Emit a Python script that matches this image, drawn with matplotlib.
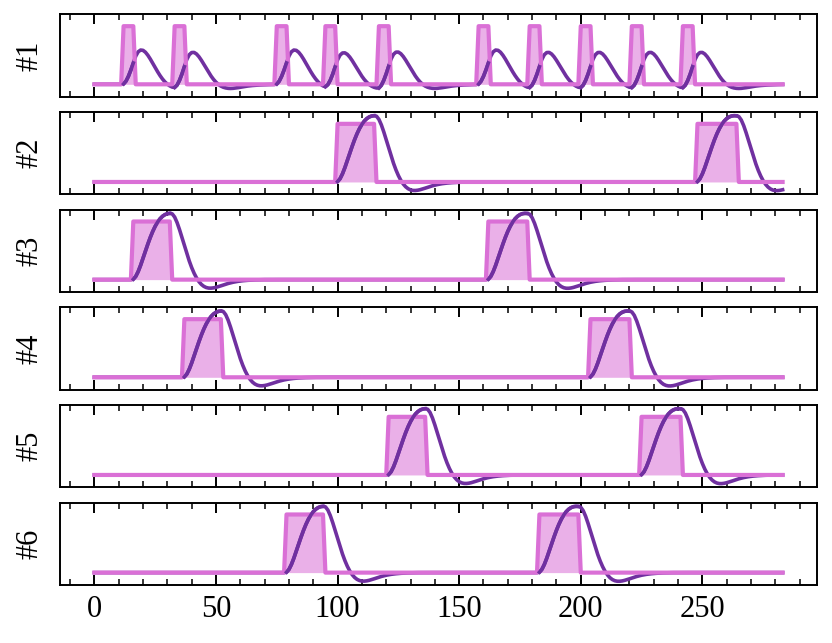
import numpy as np
import matplotlib
matplotlib.use("Agg")
import matplotlib.pyplot as plt
from matplotlib.ticker import MultipleLocator

# ---- data ----
n_samples = 284
panel_labels = ["#1", "#2", "#3", "#4", "#5", "#6"]

# stimulus blocks: first sample at 1 and number of samples at 1
onsets_1 = [12, 33, 75, 95, 117, 158, 179, 200, 221, 242]
durations_1 = [5, 5, 5, 5, 5, 5, 5, 5, 5, 5]
onsets_2 = [100, 248]
durations_2 = [16, 17]
onsets_3 = [16, 162]
durations_3 = [16, 17]
onsets_4 = [37, 204]
durations_4 = [16, 17]
onsets_5 = [121, 225]
durations_5 = [16, 17]
onsets_6 = [79, 183]
durations_6 = [16, 17]

# response kernel (per sample), estimated from the shape of the purple curves
kernel = [0.0067, 0.0482, 0.0838, 0.1075, 0.1206, 0.1250, 0.1222, 0.1141,
          0.1022, 0.0879, 0.0725, 0.0569, 0.0420, 0.0283, 0.0163, 0.0061,
          -0.0018, -0.0071, -0.0110, -0.0134, -0.0146, -0.0149, -0.0144,
          -0.0133, -0.0117, -0.0100, -0.0084, -0.0070, -0.0058, -0.0048,
          -0.0040, -0.0033, -0.0027, -0.0022, -0.0018, -0.0014, -0.0011,
          -0.0008, -0.0006, -0.0004, -0.0003, -0.0002, -0.0001]

onsets = [onsets_1, onsets_2, onsets_3, onsets_4, onsets_5, onsets_6]
durations = [durations_1, durations_2, durations_3, durations_4, durations_5, durations_6]

pink = "#DA70D6"
purple = "#7030A0"

plt.rcParams["font.family"] = ["Liberation Serif", "DejaVu Serif"]
plt.rcParams["font.size"] = 22

fig, axes = plt.subplots(6, 1, figsize=(8.32, 6.43), dpi=100, sharex=True, sharey=True)
fig.subplots_adjust(left=0.0721, right=0.982, top=0.9778, bottom=0.0902, hspace=0.185)

x = np.arange(n_samples)
for ax, lab, ons, durs in zip(axes, panel_labels, onsets, durations):
    stim = np.zeros(n_samples)
    for o, d in zip(ons, durs):
        stim[o:o + d] = 1.0
    resp = np.convolve(stim, np.array(kernel))[:n_samples]
    ax.fill_between(x, 0, stim, color=pink, alpha=0.55, linewidth=0, zorder=1)
    ax.plot(x, resp, color=purple, lw=2.6, zorder=2)
    ax.plot(x, stim, color=pink, lw=3.0, zorder=3)
    ax.plot(x, np.where(stim > 0, resp, np.nan), color=purple, lw=2.6, zorder=4)
    ax.set_ylabel(lab, labelpad=11)
    ax.set_yticks([])
    ax.xaxis.set_major_locator(MultipleLocator(50))
    ax.xaxis.set_minor_locator(MultipleLocator(10))
    ax.tick_params(axis="x", which="both", direction="in", top=True, bottom=True, pad=7)
    ax.tick_params(axis="x", which="major", length=7.5, width=1.4)
    ax.tick_params(axis="x", which="minor", length=4.3, width=1.1)
    for sp in ax.spines.values():
        sp.set_linewidth(1.4)

fig.savefig("out.png", dpi=100)
